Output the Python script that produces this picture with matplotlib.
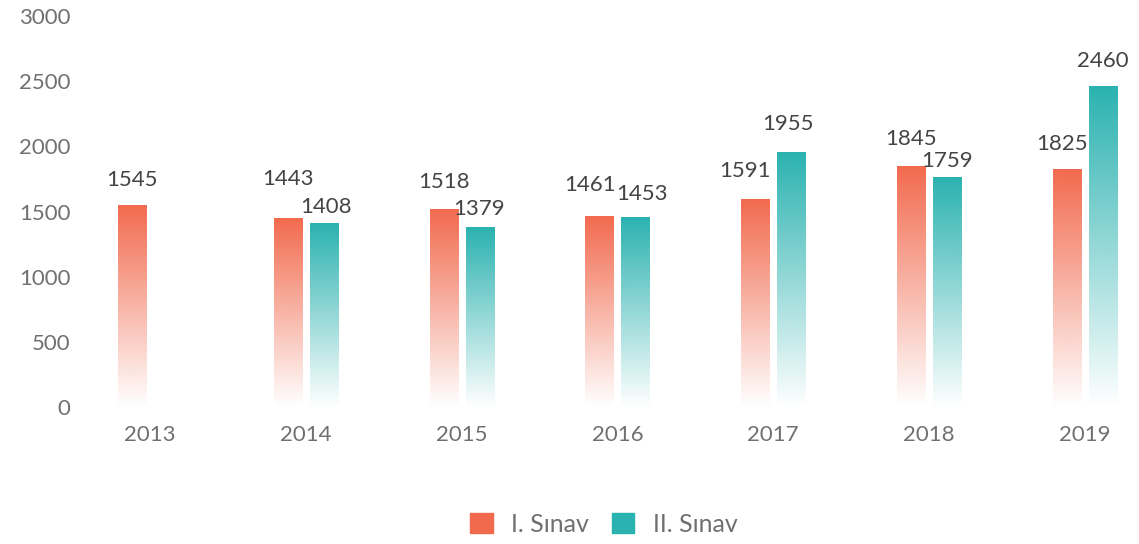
import matplotlib
matplotlib.use("Agg")
import matplotlib.pyplot as plt
import numpy as np
from matplotlib.colors import to_rgb
from matplotlib.patches import Patch

years = ['2013', '2014', '2015', '2016', '2017', '2018', '2019']
sinav1 = [1545, 1443, 1518, 1461, 1591, 1845, 1825]
sinav2 = [None, 1408, 1379, 1453, 1955, 1759, 2460]
yticks = [0, 500, 1000, 1500, 2000, 2500, 3000]

# label nudges (pixels): height of label centre above bar top, and sideways shift
lift1 = [26, 40, 27, 32, 29, 28, 25]
lift2 = [0, 16, 18, 24, 28, 17, 25]
shift1 = [0, 0, 0, -9, -10, 0, -5]
shift2 = [0, 2, -1, 7, -3, 0, 0]

orange = '#F26A4E'
teal = '#2AB2B0'
font = ['Lato', 'DejaVu Sans']
plt.rcParams['font.family'] = font
wt = 'normal'

fig = plt.figure(figsize=(11.39, 5.44), dpi=100)
ax = fig.add_axes([80/1139, 137/544, 1059/1139, 391/544])

w = 0.18
off = 0.1155


def grad_bar(x, h, color):
    r, g, b = to_rgb(color)
    n = 256
    img = np.zeros((n, 1, 4))
    img[:, 0, 0] = r
    img[:, 0, 1] = g
    img[:, 0, 2] = b
    img[:, 0, 3] = np.linspace(1, 0, n)
    ax.imshow(img, extent=(x - w/2, x + w/2, 0, h), aspect='auto', origin='upper', zorder=2)


def label(x, h, lift, shift):
    ax.annotate(str(h), (x, h), xytext=(shift*0.72, lift*0.72), textcoords='offset points',
                ha='center', va='center', fontsize=16, color='#444444', fontweight=wt)


for i in range(len(years)):
    grad_bar(i - off, sinav1[i], orange)
    label(i - off, sinav1[i], lift1[i], shift1[i])
    if sinav2[i] is not None:
        grad_bar(i + off, sinav2[i], teal)
        label(i + off, sinav2[i], lift2[i], shift2[i])

ax.set_xlim(-0.449, 6.347)
ax.set_ylim(0, 3000)
ax.set_xticks(range(len(years)))
ax.set_xticklabels(years)
ax.set_yticks(yticks)
for s in ax.spines.values():
    s.set_visible(False)
ax.tick_params(axis='x', length=0, pad=13, labelsize=16, labelcolor='#707070')
ax.tick_params(axis='y', length=0, pad=7, labelsize=16, labelcolor='#707070')
for t in ax.get_xticklabels() + ax.get_yticklabels():
    t.set_fontweight(wt)

handles = [Patch(color=orange, label='I. Sınav'), Patch(color=teal, label='II. Sınav')]
leg = fig.legend(handles=handles, loc='center', bbox_to_anchor=(604/1139, 1 - 524/544), ncol=2,
                 frameon=False, fontsize=18, handlelength=0.9, handleheight=0.9,
                 handletextpad=0.75, columnspacing=0.9)
for t in leg.get_texts():
    t.set_color('#707070')
    t.set_fontweight(wt)

fig.savefig('out.png', dpi=100)
